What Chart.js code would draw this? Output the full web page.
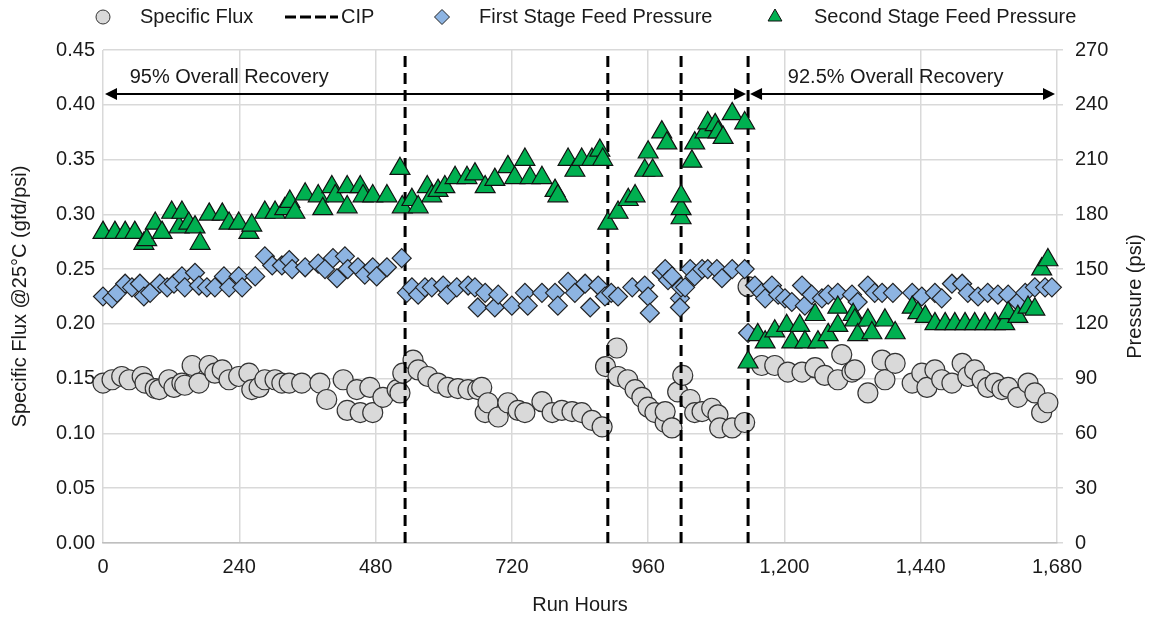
<!DOCTYPE html>
<html>
<head>
<meta charset="utf-8">
<script src="https://cdn.jsdelivr.net/npm/chart.js@4.4.1/dist/chart.umd.min.js"></script>
<style>
  html, body { margin: 0; padding: 0; background: #fff; }
  #wrap { width: 1153px; height: 620px; }
</style>
</head>
<body>
<div id="wrap"><canvas id="chart" width="1153" height="620"></canvas></div>
<script>
// [run hour, specific flux gfd/psi]
var fluxPoints = [
  [0, 0.146], [16, 0.149], [33, 0.152], [46, 0.149], [69, 0.152], [74, 0.146], [92, 0.141], [99, 0.140],
  [116, 0.149], [125, 0.142], [139, 0.146], [144, 0.144], [157, 0.162], [169, 0.146], [187, 0.162], [197, 0.155],
  [210, 0.158], [222, 0.149], [239, 0.152], [257, 0.155], [262, 0.140], [275, 0.142], [285, 0.149], [303, 0.149],
  [315, 0.146], [328, 0.146], [350, 0.146], [382, 0.146], [394, 0.131], [423, 0.149], [430, 0.121], [447, 0.140],
  [453, 0.119], [470, 0.142], [475, 0.119], [493, 0.133], [518, 0.140], [523, 0.137], [528, 0.155],
  [546, 0.167], [555, 0.158], [572, 0.152], [590, 0.146], [607, 0.142], [625, 0.141], [643, 0.140], [660, 0.140],
  [667, 0.142], [673, 0.119], [678, 0.128], [696, 0.115], [713, 0.128], [731, 0.121], [743, 0.119], [773, 0.129],
  [791, 0.119], [808, 0.121], [826, 0.120], [843, 0.119], [861, 0.112], [879, 0.106],
  [885, 0.161], [905, 0.178], [907, 0.152], [924, 0.149], [937, 0.140], [949, 0.133], [960, 0.124], [972, 0.119],
  [990, 0.110], [990, 0.120], [1002, 0.105], [1012, 0.138],
  [1021, 0.153], [1034, 0.131], [1042, 0.119], [1055, 0.120], [1072, 0.123], [1083, 0.117], [1086, 0.105],
  [1108, 0.105], [1130, 0.110],
  [1136, 0.234], [1160, 0.162], [1183, 0.162], [1206, 0.156], [1231, 0.156], [1254, 0.160], [1271, 0.153],
  [1294, 0.149], [1301, 0.172], [1319, 0.156], [1324, 0.158], [1347, 0.137], [1372, 0.167], [1377, 0.149],
  [1395, 0.164], [1425, 0.146], [1442, 0.155], [1451, 0.142], [1465, 0.158], [1477, 0.149], [1495, 0.146],
  [1513, 0.164], [1523, 0.152], [1535, 0.158], [1548, 0.149], [1558, 0.142], [1571, 0.146], [1583, 0.140],
  [1594, 0.142], [1611, 0.133], [1629, 0.146], [1641, 0.137], [1653, 0.119], [1664, 0.128]
];

// [run hour, first stage feed pressure psi]
var stage1Points = [
  [0, 135], [16, 134], [25, 137], [39, 142], [51, 140], [65, 142], [72, 135], [83, 137], [100, 142], [113, 140],
  [125, 142], [139, 146], [144, 140], [162, 148], [169, 141], [183, 140], [197, 140], [213, 146], [222, 140],
  [239, 146], [245, 140], [268, 146], [285, 157], [298, 152], [315, 152], [328, 155], [333, 150], [356, 151],
  [379, 153], [391, 150], [405, 156], [412, 145], [426, 157], [431, 150], [449, 151], [461, 147], [475, 151],
  [482, 146], [500, 151], [526, 156],
  [535, 137], [544, 140], [555, 136], [567, 140], [579, 140], [599, 141], [607, 136], [623, 140], [643, 141],
  [655, 140], [660, 129], [673, 137], [690, 129], [696, 136], [720, 130], [743, 137], [748, 130], [773, 137],
  [796, 137], [801, 130], [819, 143], [831, 137], [849, 142], [858, 129], [872, 141], [884, 135],
  [895, 137], [907, 135], [932, 140], [954, 141], [960, 135], [963, 126], [984, 148], [990, 150], [995, 144],
  [1002, 146],
  [1016, 134], [1016, 129], [1018, 140], [1025, 140], [1034, 150], [1042, 146], [1055, 150], [1065, 150],
  [1081, 150], [1090, 145], [1108, 150], [1130, 150],
  [1136, 115], [1148, 141], [1160, 137], [1166, 134], [1178, 141], [1189, 136], [1201, 134], [1213, 132],
  [1231, 141], [1236, 130], [1248, 136], [1266, 134], [1277, 136], [1294, 137], [1319, 136], [1329, 132],
  [1347, 141], [1359, 137], [1372, 137], [1391, 137], [1425, 137], [1442, 135], [1465, 137], [1477, 134],
  [1495, 142], [1513, 142], [1523, 137], [1541, 135], [1558, 137], [1576, 136], [1594, 136], [1611, 132],
  [1624, 137], [1641, 140], [1659, 140], [1671, 140]
];

// [run hour, second stage feed pressure psi]
var stage2Points = [
  [0, 170], [21, 170], [39, 170], [56, 170], [72, 164], [77, 166], [92, 175], [104, 170], [121, 181], [134, 173],
  [139, 181], [151, 175], [162, 173], [171, 164], [187, 180], [210, 180], [222, 175], [239, 175], [257, 170],
  [262, 174], [285, 181], [303, 181], [320, 183], [329, 187], [338, 181], [356, 191], [379, 190], [387, 183],
  [403, 195], [409, 190], [430, 195], [430, 184], [453, 195], [458, 190], [475, 190], [500, 190], [523, 205],
  [527, 184],
  [544, 188], [555, 184], [571, 195], [579, 190], [590, 193], [602, 195], [620, 200], [641, 200], [655, 202],
  [673, 195], [690, 199], [713, 206], [725, 200], [743, 210], [752, 200], [773, 200], [796, 193], [801, 190],
  [819, 210], [831, 204], [843, 210], [861, 210], [875, 215], [880, 210],
  [889, 175], [907, 181], [925, 188], [937, 190], [954, 204], [960, 214], [968, 204], [984, 225], [993, 219],
  [1018, 178], [1018, 183], [1018, 190], [1037, 209], [1042, 219], [1060, 225], [1065, 230], [1078, 229],
  [1083, 225], [1092, 222], [1108, 235], [1130, 230],
  [1136, 99], [1153, 114], [1166, 110], [1183, 116], [1204, 119], [1213, 110], [1227, 119], [1236, 110],
  [1254, 125], [1259, 110], [1277, 114], [1294, 129], [1294, 119], [1321, 125], [1324, 122], [1329, 114],
  [1347, 122], [1354, 115], [1377, 122], [1395, 115], [1425, 129], [1435, 126], [1448, 124], [1465, 120],
  [1483, 120], [1500, 120], [1518, 120], [1535, 120], [1553, 120], [1571, 120], [1588, 120], [1594, 126],
  [1611, 124], [1629, 129], [1641, 128], [1653, 150], [1664, 155]
];

// clean-in-place events (run hours)
var cipHours = [532, 889, 1018, 1136];

// recovery periods: [start hour, end hour]
var recoverySpans = [[0, 1136], [1136, 1680]];
var recoveryLabels = ['95% Overall Recovery', '92.5% Overall Recovery'];
var recoveryLabelHours = [47, 1206];
var recoveryArrowFlux = 0.41;
var recoveryLabelFlux = 0.425;

var FONT = "'Liberation Sans', Arial, sans-serif";
var TEXT = '#1a1a1a';

Chart.defaults.font.family = FONT;
Chart.defaults.font.size = 20;
Chart.defaults.color = TEXT;

function toPoints(pairs) {
    return pairs.map(function (p) {
        return {x: p[0], y: p[1]};
    });
}

var seriesStyle = {
    flux: {style: 'circle', radius: 10, fill: '#d9d9d9', stroke: '#333333'},
    stage1: {style: 'rectRot', radius: 9.5, fill: '#8db4e2', stroke: '#222222'},
    stage2: {style: 'triangle', radius: 11.5, fill: '#00b050', stroke: '#111111'}
};

function markerDataset(label, pairs, axis, s, order) {
    return {
        label: label,
        data: toPoints(pairs),
        yAxisID: axis,
        pointStyle: s.style,
        pointRadius: s.radius,
        pointHoverRadius: s.radius,
        pointBackgroundColor: s.fill,
        pointBorderColor: s.stroke,
        pointBorderWidth: 1.2,
        showLine: false,
        clip: false,
        order: order
    };
}

var datasets = [markerDataset('Specific Flux', fluxPoints, 'y', seriesStyle.flux, 4)];
cipHours.forEach(function (h) {
    datasets.push({
        label: 'CIP',
        data: [{x: h, y: 0}, {x: h, y: 0.45}],
        yAxisID: 'y',
        showLine: true,
        pointRadius: 0,
        borderColor: '#000',
        borderWidth: 3,
        borderDash: [11, 6],
        order: 3
    });
});
datasets.push(markerDataset('First Stage Feed Pressure', stage1Points, 'y2', seriesStyle.stage1, 2));
datasets.push(markerDataset('Second Stage Feed Pressure', stage2Points, 'y2', seriesStyle.stage2, 1));

function arrowHead(ctx, tipX, tipY, dir) {
    ctx.beginPath();
    ctx.moveTo(tipX, tipY);
    ctx.lineTo(tipX - dir * 12, tipY - 6);
    ctx.lineTo(tipX - dir * 12, tipY + 6);
    ctx.closePath();
    ctx.fill();
}

var overlayPlugin = {
    id: 'overlay',
    afterDraw: function (chart) {
        var ctx = chart.ctx;
        var xs = chart.scales.x;
        var ys = chart.scales.y;
        ctx.save();

        // recovery arrows and labels
        ctx.strokeStyle = '#000';
        ctx.fillStyle = '#000';
        ctx.lineWidth = 2;
        var arrowY = Math.round(ys.getPixelForValue(recoveryArrowFlux));
        recoverySpans.forEach(function (span, i) {
            var x0 = xs.getPixelForValue(span[0]) + 2;
            var x1 = xs.getPixelForValue(span[1]) - 2;
            ctx.beginPath();
            ctx.moveTo(x0 + 8, arrowY);
            ctx.lineTo(x1 - 8, arrowY);
            ctx.stroke();
            arrowHead(ctx, x0, arrowY, -1);
            arrowHead(ctx, x1, arrowY, 1);
            ctx.font = '20px ' + FONT;
            ctx.fillStyle = TEXT;
            ctx.textAlign = 'left';
            ctx.textBaseline = 'middle';
            ctx.fillText(recoveryLabels[i], xs.getPixelForValue(recoveryLabelHours[i]), ys.getPixelForValue(recoveryLabelFlux));
            ctx.fillStyle = '#000';
        });

        // right axis title, reading bottom to top
        ctx.save();
        ctx.translate(1135, (chart.chartArea.top + chart.chartArea.bottom) / 2);
        ctx.rotate(-Math.PI / 2);
        ctx.textAlign = 'center';
        ctx.textBaseline = 'middle';
        ctx.fillStyle = TEXT;
        ctx.font = '20px ' + FONT;
        ctx.fillText('Pressure (psi)', 0, 0);
        ctx.restore();

        // legend
        var ly = 17;
        var items = [
            {marker: seriesStyle.flux, mx: 103, tx: 140, text: 'Specific Flux', r: 7},
            {dash: true, mx: 285, tx: 341, text: 'CIP'},
            {marker: seriesStyle.stage1, mx: 442, tx: 479, text: 'First Stage Feed Pressure', r: 7.5},
            {marker: seriesStyle.stage2, mx: 775, tx: 814, text: 'Second Stage Feed Pressure', r: 8}
        ];
        items.forEach(function (it) {
            if (it.dash) {
                ctx.save();
                ctx.strokeStyle = '#000';
                ctx.lineWidth = 3;
                ctx.setLineDash([11, 4]);
                ctx.beginPath();
                ctx.moveTo(it.mx, ly);
                ctx.lineTo(it.tx - 3, ly);
                ctx.stroke();
                ctx.restore();
            } else {
                ctx.fillStyle = it.marker.fill;
                ctx.strokeStyle = it.marker.stroke;
                ctx.lineWidth = 1;
                Chart.helpers.drawPoint(ctx, {pointStyle: it.marker.style, radius: it.r, rotation: 0, borderWidth: 1}, it.mx, ly);
            }
            ctx.fillStyle = TEXT;
            ctx.font = '20px ' + FONT;
            ctx.textAlign = 'left';
            ctx.textBaseline = 'middle';
            ctx.fillText(it.text, it.tx, ly);
        });

        ctx.restore();
    }
};

new Chart(document.getElementById('chart').getContext('2d'), {
    type: 'scatter',
    data: {datasets: datasets},
    plugins: [overlayPlugin],
    options: {
        responsive: false,
        animation: false,
        layout: {padding: {top: 50, left: 0, right: 0, bottom: 0}},
        plugins: {
            legend: {display: false},
            tooltip: {enabled: false}
        },
        scales: {
            x: {
                type: 'linear',
                min: 0,
                max: 1680,
                ticks: {
                    stepSize: 240,
                    padding: 12,
                    callback: function (v) {
                        return v.toLocaleString('en-US');
                    }
                },
                grid: {color: '#d9d9d9', lineWidth: 1.5, drawTicks: false},
                border: {color: '#bfbfbf', width: 1.5},
                title: {display: true, text: 'Run Hours', padding: {top: 4, bottom: 3}},
                afterFit: function (scale) {
                    scale.height = 77;
                }
            },
            y: {
                position: 'left',
                min: 0,
                max: 0.45,
                ticks: {
                    stepSize: 0.05,
                    padding: 8,
                    callback: function (v) {
                        return v.toFixed(2);
                    }
                },
                grid: {color: '#d9d9d9', lineWidth: 1.5, drawTicks: false},
                border: {display: false},
                title: {display: true, text: 'Specific Flux @25°C (gfd/psi)', padding: {top: 8, bottom: 0}},
                afterFit: function (scale) {
                    scale.width = 103;
                }
            },
            y2: {
                position: 'right',
                min: 0,
                max: 270,
                ticks: {stepSize: 30, padding: 12},
                grid: {drawOnChartArea: false, color: '#d9d9d9', lineWidth: 1.5, tickLength: 6},
                border: {display: false},
                afterFit: function (scale) {
                    scale.width = 96;
                }
            }
        }
    }
});
</script>
</body>
</html>
